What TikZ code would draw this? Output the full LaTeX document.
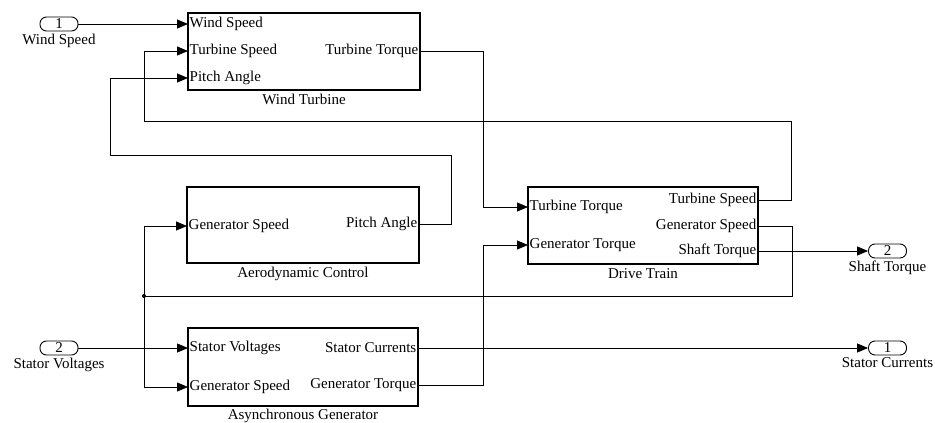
\documentclass[tikz,border=0pt]{standalone}
\usepackage{fontspec}
\setmainfont{Liberation Serif}
\usetikzlibrary{positioning,calc,arrows.meta}
\tikzset{
  blk/.style={draw, line width=1.1pt, minimum width=230pt, minimum height=77pt, inner sep=0pt},
  pin/.style={inner xsep=1.5pt, inner ysep=0pt},
  io/.style={draw, line width=0.9pt, rounded corners=6.5pt, minimum width=38pt,
             minimum height=14pt, inner sep=0pt},
  sig/.style={line width=0.8pt},
  sigar/.style={sig, -{Triangle[length=11pt,width=9pt]}},
}

\begin{document}
\begin{tikzpicture}[x=1pt, y=-1pt, font=\fontsize{15}{17}\selectfont]
  \useasboundingbox (0,0) rectangle (935,423);
  % blocks
  \node[blk, minimum width=232pt] (wt) at (304,51.5) {};
  \node[blk, minimum width=232pt, minimum height=76pt] (ac) at (303,225) {};
  \node[blk] (dt) at (643,225.5) {};
  \node[blk, minimum height=78pt] (ag) at (303,367) {};
  \node[below=0pt of wt] (wtlbl) {Wind Turbine};
  \node[below=0pt of ac] (aclbl) {Aerodynamic Control};
  \node[below=0pt of dt] (dtlbl) {Drive Train};
  \node[below=-1pt of ag] (aglbl) {Asynchronous Generator};
  % ports
  \node[pin, anchor=west] (wtWS) at (188,24) {Wind Speed};
  \node[pin, anchor=west] (wtTS) at (188,51) {Turbine Speed};
  \node[pin, anchor=west] (wtPA) at (188,78) {Pitch Angle};
  \node[pin, anchor=east] (wtTT) at (420,51) {Turbine Torque};
  \node[pin, anchor=west] (acGS) at (187,226) {Generator Speed};
  \node[pin, anchor=east] (acPA) at (419,224) {Pitch Angle};
  \node[pin, anchor=west] (dtTT) at (528,207) {Turbine Torque};
  \node[pin, anchor=west] (dtGT) at (528,245) {Generator Torque};
  \node[pin, anchor=east] (dtTS) at (758,200) {Turbine Speed};
  \node[pin, anchor=east] (dtGS) at (758,226) {Generator Speed};
  \node[pin, anchor=east] (dtST) at (758,251) {Shaft Torque};
  \node[pin, anchor=west] (agSV) at (188,348) {Stator Voltages};
  \node[pin, anchor=west] (agGS) at (188,387) {Generator Speed};
  \node[pin, anchor=east] (agSC) at (418,348) {Stator Currents};
  \node[pin, anchor=east] (agGT) at (418,385) {Generator Torque};
  % in/out ports
  \node[io] (inWS) at (59,24) {1};
  \node[io] (inSV) at (59,348) {2};
  \node[io] (outST) at (887.5,251) {2};
  \node[io] (outSC) at (887.5,348) {1};
  \node[below=-1pt of inWS] (inWSlbl) {Wind Speed};
  \node[below=-1pt of inSV] (inSVlbl) {Stator Voltages};
  \node[below=-1pt of outST] (outSTlbl) {Shaft Torque};
  \node[below=-1pt of outSC] (outSClbl) {Stator Currents};
  \coordinate (jGS) at (144,296);
  \fill (jGS) circle (2pt);
  % signals
  \draw[sigar] (inWS.east) -- (wtWS.west);
  \draw[sigar] (inSV.east) -- (agSV.west);
  \draw[sigar] (wtTT.east) -- ++(63,0) |- (dtTT.west);
  \draw[sigar] (dtTS.east) -- ++(33,0) |- (144,121) |- (wtTS.west);
  \draw[sigar] (acPA.east) -- ++(32,0) |- (110,155) |- (wtPA.west);
  \draw[sig] (dtGS.east) -- ++(34,0) |- (jGS);
  \draw[sigar] (jGS) |- (acGS.west);
  \draw[sigar] (jGS) |- (agGS.west);
  \draw[sigar] (agGT.east) -- ++(65,0) |- (dtGT.west);
  \draw[sigar] (dtST.east) -- (outST.west);
  \draw[sigar] (agSC.east) -- (outSC.west);
\end{tikzpicture}
\end{document}
